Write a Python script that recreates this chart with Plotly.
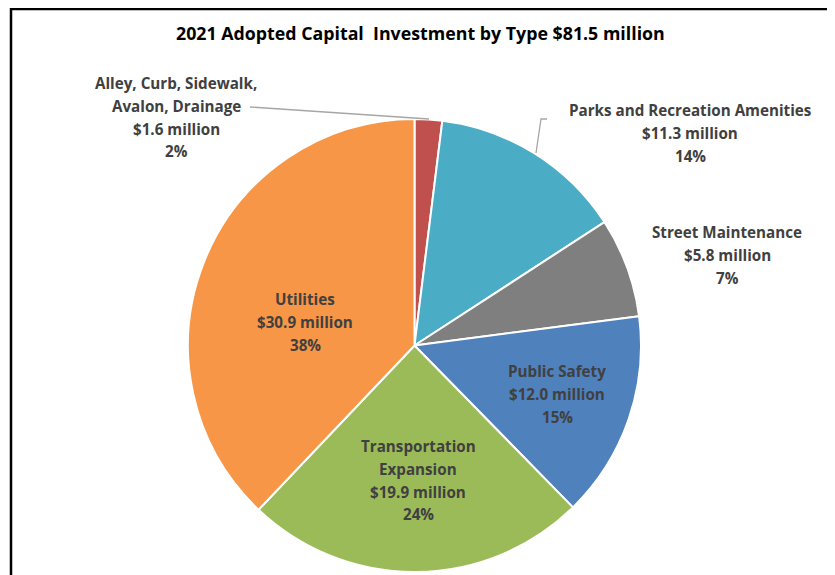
import plotly.graph_objects as go

W, H = 835, 575
OFF = 8  # page body margin offset

categories = ["Alley, Curb, Sidewalk, Avalon, Drainage", "Parks and Recreation Amenities",
              "Street Maintenance", "Public Safety", "Transportation Expansion", "Utilities"]
values = [1.6, 11.3, 5.8, 12.0, 19.9, 30.9]
percents = ["2%", "14%", "7%", "15%", "24%", "38%"]
colors = ["#C0504D", "#4BACC6", "#7F7F7F", "#4F81BD", "#9BBB59", "#F79646"]
label_lines = [
    ["Alley, Curb, Sidewalk,", "Avalon, Drainage"],
    ["Parks and Recreation Amenities"],
    ["Street Maintenance"],
    ["Public Safety"],
    ["Transportation", "Expansion"],
    ["Utilities"],
]
# label block positions (pixel centers of first line)
label_pos = [(176, 83), (690, 110), (727, 232), (557, 371), (418, 446), (305, 299)]

FONT = "Open Sans"
TXT = "#404040"


def px(x, y):
    return (x - OFF) / W, 1 - (y - OFF) / H


cx0, cy0 = 188, 119
cx1, cy1 = 641, 572

d0 = px(cx0, cy1)
d1 = px(cx1, cy0)
fig = go.Figure(go.Pie(
    labels=categories, values=values, sort=False, direction="clockwise", rotation=0,
    marker=dict(colors=colors, line=dict(color="white", width=2)),
    textinfo="none", hoverinfo="label+value+percent", showlegend=False,
    domain=dict(x=[d0[0], d1[0]], y=[d0[1], d1[1]]),
))

annotations = []
for i, (cat, v, p) in enumerate(zip(categories, values, percents)):
    lines = label_lines[i] + [f"${v:.1f} million", p]
    x, y = label_pos[i]
    for j, line in enumerate(lines):
        ax, ay = px(x, y + j * 22.8)
        annotations.append(dict(x=ax, y=ay, xref="paper", yref="paper", text=f"<b>{line}</b>",
                                showarrow=False, xanchor="center", yanchor="middle",
                                font=dict(family=FONT, size=15.2, color=TXT)))

tx, ty = px(420, 33)
annotations.append(dict(x=tx, y=ty, xref="paper", yref="paper",
                        text="<b>2021 Adopted Capital  Investment by Type $81.5 million</b>",
                        showarrow=False, xanchor="center", yanchor="middle",
                        font=dict(family=FONT, size=17.8, color="black")))


def path(points):
    s = ""
    for k, (x, y) in enumerate(points):
        X, Y = px(x, y)
        s += ("M" if k == 0 else "L") + f"{X:.5f},{Y:.5f} "
    return s


shapes = [
    dict(type="rect", xref="paper", yref="paper", x0=px(11, 0)[0], x1=px(830, 0)[0],
         y0=px(0, 9)[1], y1=-0.05, line=dict(color="black", width=2.5), fillcolor="rgba(0,0,0,0)"),
    dict(type="path", xref="paper", yref="paper", path=path([(250, 107), (429, 119)]),
         line=dict(color="#A6A6A6", width=1.3)),
    dict(type="path", xref="paper", yref="paper", path=path([(547, 119), (541, 119), (536, 153)]),
         line=dict(color="#A6A6A6", width=1.3)),
]

fig.update_layout(width=W, height=H, margin=dict(l=0, r=0, t=0, b=0),
                  paper_bgcolor="white", plot_bgcolor="white",
                  annotations=annotations, shapes=shapes)
fig.write_html("out.html")
